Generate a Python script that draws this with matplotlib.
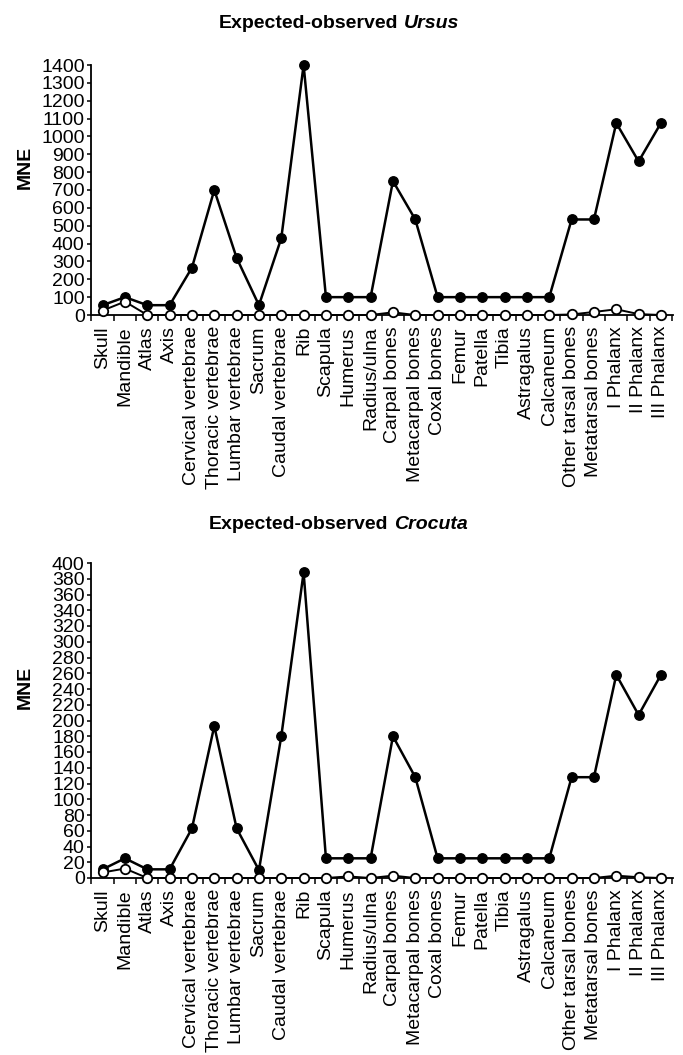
import matplotlib
matplotlib.use("Agg")
import matplotlib.pyplot as plt
import numpy as np

plt.rcParams["font.family"] = ["Liberation Sans", "DejaVu Sans"]

bones = [
    "Skull", "Mandible", "Atlas", "Axis", "Cervical vertebrae",
    "Thoracic vertebrae", "Lumbar vertebrae", "Sacrum", "Caudal vertebrae",
    "Rib", "Scapula", "Humerus", "Radius/ulna", "Carpal bones",
    "Metacarpal bones", "Coxal bones", "Femur", "Patella", "Tibia",
    "Astragalus", "Calcaneum", "Other tarsal bones", "Metatarsal bones",
    "I Phalanx", "II Phalanx", "III Phalanx",
]

# Ursus: expected and observed MNE
ursus_expected = [55, 100, 55, 55, 265, 700, 320, 55, 430, 1400, 100, 100, 100,
                  750, 535, 100, 100, 100, 100, 100, 100, 535, 535, 1075, 860, 1075]
ursus_observed = [25, 75, 0, 0, 0, 0, 0, 0, 0, 0, 0, 0, 0,
                  15, 0, 0, 0, 0, 0, 0, 0, 3, 17, 32, 5, 0]

# Crocuta: expected and observed MNE
crocuta_expected = [11, 25, 11, 11, 63, 193, 63, 10, 180, 388, 25, 25, 25,
                    180, 128, 25, 25, 25, 25, 25, 25, 128, 128, 258, 207, 258]
crocuta_observed = [7, 12, 0, 0, 0, 0, 0, 0, 0, 0, 0, 2, 0,
                    3, 0, 0, 0, 0, 0, 0, 0, 0, 0, 3, 1, 0]

ursus_ticks = list(range(0, 1401, 100))
crocuta_ticks = list(range(0, 401, 20))

W, H = 683, 1055
FS = 14

fig = plt.figure(figsize=(W / 100, H / 100), dpi=100)
fig.patch.set_facecolor("white")

ax_left = 91
ax_right = 673


def make_axes(top_px, bottom_px):
    return fig.add_axes([ax_left / W, (H - bottom_px) / H,
                         (ax_right - ax_left) / W, (bottom_px - top_px) / H])


def style_panel(ax, expected, observed, yticks):
    x = np.arange(len(bones))
    ax.plot(x, expected, color="black", lw=1.8, marker="o", ms=6.8,
            mfc="black", mec="black", clip_on=False, zorder=3)
    ax.plot(x, observed, color="black", lw=1.4, marker="o", ms=6.8,
            mfc="white", mec="black", mew=1.3, clip_on=False, zorder=4)
    ax.set_xlim(-0.52, len(bones) - 0.46)
    ax.set_ylim(yticks[0], yticks[-1])
    ax.set_yticks(yticks)
    ax.set_yticklabels([str(t) for t in yticks], fontsize=FS)
    ax.set_xticks(x)
    ax.set_xticklabels(bones, rotation=90, fontsize=FS, va="top", ha="center")
    ax.set_xticks(np.arange(-0.5, len(bones)), minor=True)
    ax.tick_params(axis="x", which="major", length=0, pad=8)
    ax.tick_params(axis="x", which="minor", length=4, width=1.1,
                   direction="out", color="black")
    ax.tick_params(axis="y", which="major", length=3, width=1.1,
                   direction="out", pad=1.5, color="black")
    for side in ("top", "right"):
        ax.spines[side].set_visible(False)
    for side in ("left", "bottom"):
        ax.spines[side].set_linewidth(1.3)
        ax.spines[side].set_color("black")
    ax.set_facecolor("none")


ax1 = make_axes(65, 315)
style_panel(ax1, ursus_expected, ursus_observed, ursus_ticks)

ax2 = make_axes(563, 878)
style_panel(ax2, crocuta_expected, crocuta_observed, crocuta_ticks)

# y-axis titles
fig.text(25 / W, 1 - 167 / H, "MNE", rotation=90, fontsize=FS,
         fontweight="bold", ha="center", va="center")
fig.text(25 / W, 1 - 687 / H, "MNE", rotation=90, fontsize=FS,
         fontweight="bold", ha="center", va="center")

# panel titles: bold text followed by a bold-italic genus name
renderer = fig.canvas.get_renderer()


def panel_title(cx_px, cy_px, genus):
    t1 = fig.text(0, 1 - cy_px / H, "Expected-observed", fontsize=FS,
                  fontweight="bold", ha="left", va="center")
    t2 = fig.text(0, 1 - cy_px / H, genus, fontsize=FS, fontweight="bold",
                  fontstyle="italic", ha="left", va="center")
    w1 = t1.get_window_extent(renderer).width
    w2 = t2.get_window_extent(renderer).width
    gap = 0.278 * FS * 100 / 72
    x0 = cx_px - (w1 + gap + w2) / 2
    t1.set_x(x0 / W)
    t2.set_x((x0 + w1 + gap) / W)


panel_title(339, 23, "Ursus")
panel_title(338, 525, "Crocuta")

fig.savefig("out.png", dpi=100, facecolor="white")
